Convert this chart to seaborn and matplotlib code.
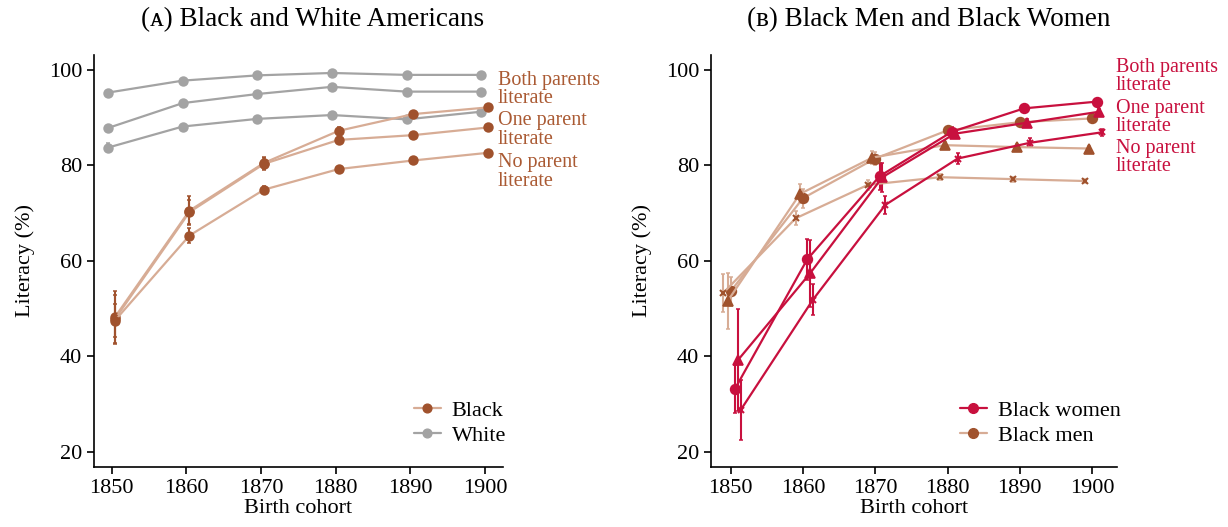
import numpy as np
import pandas as pd
import matplotlib
matplotlib.use('Agg')
import matplotlib.pyplot as plt
from matplotlib.lines import Line2D
import seaborn as sns

# data
years = [1850, 1860, 1870, 1880, 1890, 1900]

# panel A: Black and White Americans, by parental literacy
white_both = [95.2, 97.7, 98.8, 99.3, 98.9, 98.9]
white_one = [87.8, 93.0, 94.9, 96.4, 95.4, 95.4]
white_none = [83.7, 88.1, 89.7, 90.5, 89.6, 91.2]
white_both_ci = [0.3, 0.2, 0.2, 0.1, 0.1, 0.1]
white_one_ci = [0.5, 0.3, 0.2, 0.2, 0.2, 0.2]
white_none_ci = [1.0, 0.4, 0.3, 0.3, 0.3, 0.3]

black_both = [48.2, 70.5, 80.5, 87.2, 90.7, 92.1]
black_one = [47.8, 70.2, 80.3, 85.3, 86.3, 87.9]
black_none = [47.5, 65.3, 74.9, 79.2, 81.0, 82.6]
black_both_ci = [5.5, 3.0, 1.3, 0.8, 0.6, 0.5]
black_one_ci = [5.0, 2.5, 1.3, 0.8, 0.6, 0.5]
black_none_ci = [3.5, 1.5, 0.7, 0.5, 0.4, 0.4]

# panel B: Black women and Black men, by parental literacy
women_both = [33.2, 60.3, 77.7, 87.0, 91.9, 93.3]
women_one = [39.2, 57.4, 77.5, 86.6, 88.9, 91.2]
women_none = [28.8, 51.9, 71.7, 81.4, 84.7, 86.9]
women_both_ci = [5.0, 4.3, 2.8, 1.0, 0.7, 0.6]
women_one_ci = [10.7, 7.0, 3.0, 1.0, 0.7, 0.6]
women_none_ci = [6.2, 3.2, 1.8, 1.2, 0.9, 0.7]

men_both = [53.6, 73.1, 81.4, 87.3, 89.0, 89.8]
men_one = [51.6, 74.0, 81.6, 84.2, 83.8, 83.5]
men_none = [53.3, 68.9, 75.9, 77.5, 77.1, 76.7]
men_both_ci = [3.0, 2.0, 1.3, 0.7, 0.6, 0.5]
men_one_ci = [5.8, 2.0, 1.3, 0.7, 0.6, 0.5]
men_none_ci = [4.0, 1.5, 1.0, 0.6, 0.5, 0.4]

group_labels = ['Both parents\nliterate', 'One parent\nliterate', 'No parent\nliterate']

# colours
sienna = '#A0522D'
sienna_text = '#AA5A33'
sienna_light = '#D7AC95'
grey = '#A3A3A3'
crimson = '#C8103E'

sns.set_style('ticks')
plt.rcParams['font.family'] = ['Liberation Serif', 'DejaVu Serif']
plt.rcParams['text.color'] = 'black'
plt.rcParams['axes.labelcolor'] = 'black'
plt.rcParams['xtick.color'] = 'black'
plt.rcParams['ytick.color'] = 'black'
plt.rcParams['axes.edgecolor'] = 'black'

fig = plt.figure(figsize=(12.28, 5.27), dpi=100)
ax1 = fig.add_axes([0.0765, 0.114, 0.333, 0.782])
ax2 = fig.add_axes([0.579, 0.114, 0.331, 0.782])


def draw(ax, x, y, ci, line_c, mark_c, err_c, marker, ms):
    x = np.array(x, dtype=float)
    df = pd.DataFrame({'year': x, 'lit': y})
    ax.errorbar(x, y, yerr=ci, fmt='none', ecolor=err_c, elinewidth=1.5,
                capsize=1.6, capthick=1.1, zorder=2)
    sns.lineplot(data=df, x='year', y='lit', ax=ax, color=line_c, linewidth=1.6,
                 marker=marker, markersize=ms, markerfacecolor=mark_c,
                 markeredgecolor=mark_c, markeredgewidth=1.2 if marker != 'x' else 1.5,
                 legend=False, zorder=3)


yr = np.array(years, dtype=float)

# ---- panel A
for vals, ci in ((white_both, white_both_ci), (white_one, white_one_ci), (white_none, white_none_ci)):
    draw(ax1, yr - 0.5, vals, ci, grey, grey, grey, 'o', 6.3)
for vals, ci in ((black_both, black_both_ci), (black_one, black_one_ci), (black_none, black_none_ci)):
    draw(ax1, yr + 0.4, vals, ci, sienna_light, sienna, sienna, 'o', 6.3)

# ---- panel B
men_sets = [(men_both, men_both_ci, 'o', 0.0, 7.0), (men_one, men_one_ci, '^', -0.4, 7.5),
            (men_none, men_none_ci, 'x', -1.0, 4.5)]
women_sets = [(women_both, women_both_ci, 'o', 0.6, 7.0), (women_one, women_one_ci, '^', 1.0, 7.5),
              (women_none, women_none_ci, 'x', 1.4, 4.5)]
for vals, ci, m, off, ms in men_sets:
    draw(ax2, yr + off, vals, ci, sienna_light, sienna, sienna_light, m, ms)
for vals, ci, m, off, ms in women_sets:
    draw(ax2, yr + off, vals, ci, crimson, crimson, crimson, m, ms)

# group labels on the right of each panel
for ax, xt, ys, col in ((ax1, 1901.7, [95.8, 87.4, 78.6], sienna_text),
                        (ax2, 1903.3, [98.6, 90.0, 81.6], crimson)):
    for lab, yv in zip(group_labels, ys):
        ax.text(xt, yv, lab, color=col, fontsize=14.5, va='center', ha='left',
                linespacing=0.95, clip_on=False)

# axes formatting
for ax in (ax1, ax2):
    ax.set_xlim(1847.6, 1902.4)
    ax.set_ylim(16.9, 103.1)
    ax.set_xticks(years)
    ax.set_yticks([20, 40, 60, 80, 100])
    ax.tick_params(labelsize=16, length=5, width=1.2, colors='black')
    ax.set_xlabel('Birth cohort', fontsize=16, labelpad=1)
    ax.set_ylabel('Literacy (%)', fontsize=16, labelpad=10)
    for s in ('left', 'bottom'):
        ax.spines[s].set_linewidth(1.2)
    sns.despine(ax=ax)
    ax.grid(False)

ax2.set_xlim(1847.3, 1903.5)

ax1.text(0.535, 1.085, '(ᴀ) Black and White Americans', transform=ax1.transAxes,
         ha='center', va='center', fontsize=19.5)
ax2.text(0.536, 1.085, '(ʙ) Black Men and Black Women', transform=ax2.transAxes,
         ha='center', va='center', fontsize=19.5)

# legends
h1 = [Line2D([0], [0], color=sienna_light, marker='o', markerfacecolor=sienna,
             markeredgecolor=sienna, markersize=6.3, linewidth=1.6),
      Line2D([0], [0], color=grey, marker='o', markerfacecolor=grey,
             markeredgecolor=grey, markersize=6.3, linewidth=1.6)]
ax1.legend(h1, ['Black', 'White'], loc='lower right', bbox_to_anchor=(1.03, 0.03),
           frameon=False, fontsize=16, handlelength=1.2, handletextpad=0.5,
           labelspacing=0.2, borderaxespad=0)
h2 = [Line2D([0], [0], color=crimson, marker='o', markerfacecolor=crimson,
             markeredgecolor=crimson, markersize=7, linewidth=1.6),
      Line2D([0], [0], color=sienna_light, marker='o', markerfacecolor=sienna,
             markeredgecolor=sienna, markersize=7, linewidth=1.6)]
ax2.legend(h2, ['Black women', 'Black men'], loc='lower right', bbox_to_anchor=(1.03, 0.03),
           frameon=False, fontsize=16, handlelength=1.2, handletextpad=0.5,
           labelspacing=0.2, borderaxespad=0)

fig.savefig('out.png', dpi=100)
